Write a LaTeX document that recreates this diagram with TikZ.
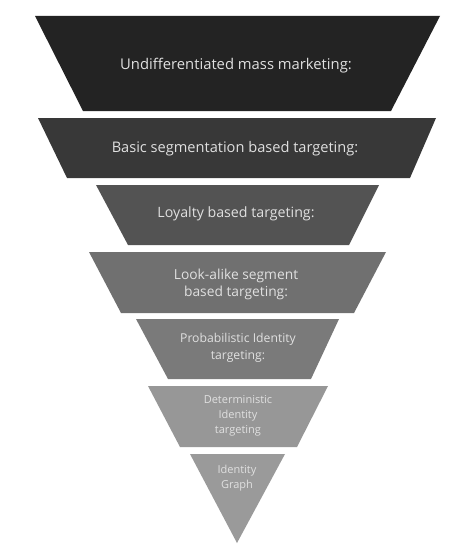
\documentclass[tikz,border=0pt]{standalone}
\usepackage{fontspec}
\setmainfont{Open Sans}
\begin{document}
\begin{tikzpicture}[x=1pt,y=-1pt,
  lbl/.style={text=white!88!black,align=center,font=\fontsize{13.8}{17}\selectfont,inner sep=0pt},
  lblsmall/.style={lbl,font=\fontsize{11}{15}\selectfont}]
\useasboundingbox[fill=white] (0,0) rectangle (453,551);
\definecolor{c1}{HTML}{232323}
\definecolor{c2}{HTML}{383838}
\definecolor{c3}{HTML}{535353}
\definecolor{c4}{HTML}{707070}
\definecolor{c5}{HTML}{7A7A7A}
\definecolor{c6}{HTML}{979797}
\definecolor{c7}{HTML}{9A9A9A}
\fill[c1] (35,16) -- (440,16) -- (391,111) -- (83,111) -- cycle;
\fill[c2] (38,118) -- (436,118) -- (410,178) -- (67,178) -- cycle;
\fill[c3] (96,185) -- (379,185) -- (349,245) -- (128,245) -- cycle;
\fill[c4] (89,252) -- (386,252) -- (354,313) -- (121,313) -- cycle;
\fill[c5] (136,319) -- (339,319) -- (311,379) -- (168,379) -- cycle;
\fill[c6] (148,386) -- (328,386) -- (297,447) -- (180,447) -- cycle;
\fill[c7] (190,454) -- (285,454) -- (237,543) -- cycle;
\node[lbl,font=\fontsize{14.8}{17}\selectfont] (t1) at (236,66) {Undifferentiated mass marketing:};
\node[lbl,font=\fontsize{14.6}{17}\selectfont] (t2) at (235,149) {Basic segmentation based targeting:};
\node[lbl,font=\fontsize{14.2}{17}\selectfont] (t3) at (236,214) {Loyalty based targeting:};
\node[lbl] (t4) at (236,284) {Look-alike segment\\based targeting:};
\node[lbl,font=\fontsize{12.2}{17}\selectfont] (t5) at (238,348) {Probabilistic Identity\\targeting:};
\node[lblsmall] (t6) at (238,416) {Deterministic\\Identity\\targeting};
\node[lblsmall] (t7) at (237,478) {Identity\\Graph};
\end{tikzpicture}
\end{document}
